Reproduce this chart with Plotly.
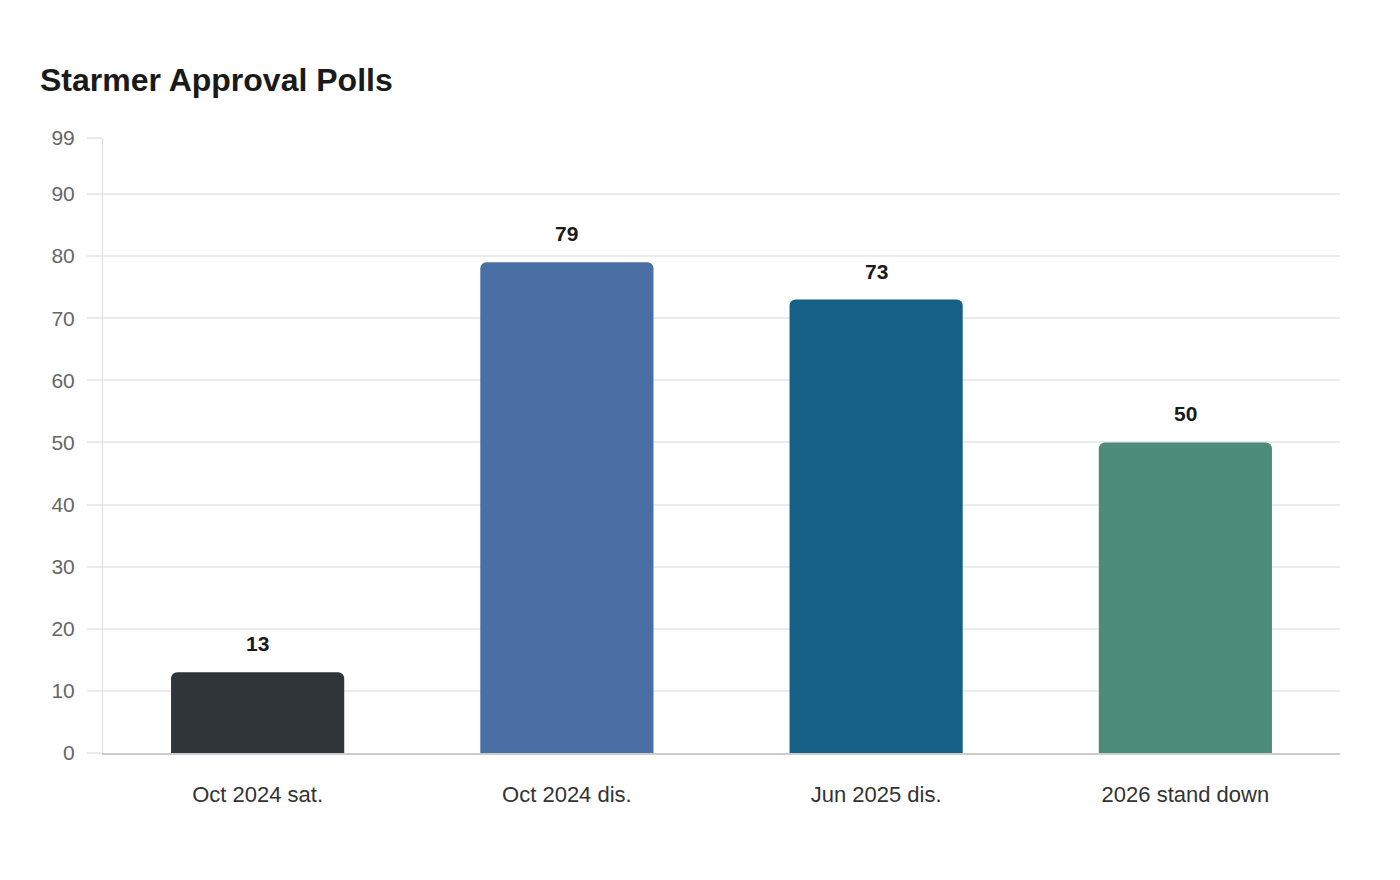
import plotly.graph_objects as go

categories = ["Oct 2024 sat.", "Oct 2024 dis.", "Jun 2025 dis.", "2026 stand down"]
values = [13, 79, 73, 50]
colors = ["#2f3538", "#4a6fa5", "#166088", "#4e8c7a"]
tick_vals = [0, 10, 20, 30, 40, 50, 60, 70, 80, 90, 99]

fig = go.Figure()
fig.add_trace(go.Bar(
    x=categories,
    y=values,
    marker=dict(color=colors, cornerradius=6, line=dict(width=0)),
    width=0.56,
    hoverinfo="x+y",
))

# value labels above each bar
for c, v in zip(categories, values):
    fig.add_annotation(x=c, y=v, text="<b>%d</b>" % v, showarrow=False,
                       yanchor="bottom", yshift=15,
                       font=dict(size=21, color="#1a1a1a"))

fig.update_layout(
    width=1400, height=880,
    paper_bgcolor="white", plot_bgcolor="white",
    font=dict(family="Liberation Sans, Arial, sans-serif"),
    title=dict(text="<b>Starmer Approval Polls</b>", x=32 / 1400, xanchor="left",
               y=1 - 72 / 880, yanchor="middle",
               font=dict(size=32, color="#1a1a1a")),
    margin=dict(l=95, r=68, t=130, b=135),
    showlegend=False,
    bargap=0.44,
)
fig.update_xaxes(
    showgrid=False, showline=True, linecolor="#cccccc", linewidth=2,
    ticks="", tickfont=dict(size=22, color="#333333"), ticklabelstandoff=21,
)
fig.update_yaxes(
    range=[0, 99], tickvals=tick_vals, showgrid=True, gridcolor="#ebebeb", gridwidth=1.5,
    ticks="outside", ticklen=15, tickcolor="#ebebeb", tickwidth=1.5,
    showline=True, linecolor="#dddddd", linewidth=1,
    tickfont=dict(size=21, color="#666666"), zeroline=False, ticklabelstandoff=8,
)

fig.write_html("out.html")
